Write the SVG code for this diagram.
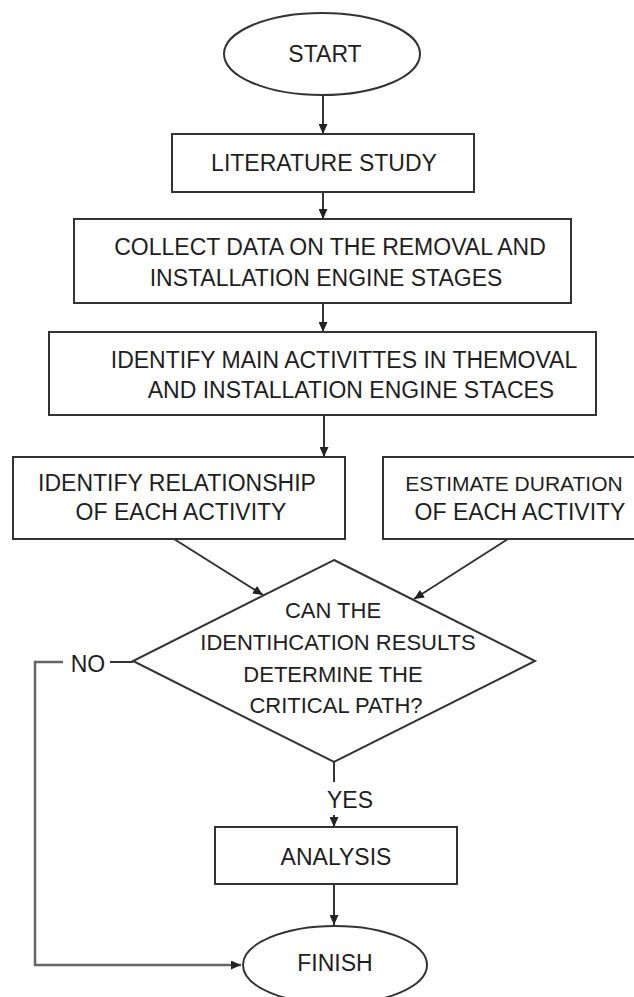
<svg xmlns="http://www.w3.org/2000/svg" width="634" height="997" viewBox="0 0 634 997">
<style>
.shape{fill:#fff;stroke:#333;stroke-width:2}
.t{font-family:"Liberation Sans",Arial,sans-serif;font-size:23px;fill:#1e1e1e;text-anchor:middle}
.d{font-size:22px}
.c{fill:none;stroke:#333;stroke-width:2}
.g{fill:none;stroke:#666;stroke-width:2.5}
</style>
<defs>
<marker id="ah" markerUnits="userSpaceOnUse" markerWidth="10" markerHeight="9" refX="10" refY="4.5" orient="auto">
<path d="M0,0 L10,4.5 L0,9 z" fill="#222"/>
</marker>
</defs>
<rect width="634" height="997" fill="#fff"/>
<g id="connectors">
<line class="c" x1="323" y1="95" x2="323" y2="134" marker-end="url(#ah)"/>
<line class="c" x1="323" y1="192" x2="323" y2="219" marker-end="url(#ah)"/>
<line class="c" x1="323" y1="303" x2="323" y2="332" marker-end="url(#ah)"/>
<line class="c" x1="324" y1="415" x2="324" y2="457" marker-end="url(#ah)"/>
<line class="c" x1="174" y1="539" x2="263" y2="595" marker-end="url(#ah)"/>
<line class="c" x1="508" y1="539" x2="414" y2="599" marker-end="url(#ah)"/>
<line class="c" x1="133" y1="662" x2="110" y2="662"/>
<polyline class="g" points="63,662 35,662 35,965 241,965" marker-end="url(#ah)"/>
<line class="c" x1="334" y1="762" x2="334" y2="782"/>
<line class="c" x1="334" y1="815" x2="334" y2="827" marker-end="url(#ah)"/>
<line class="c" x1="334" y1="884" x2="334" y2="925" marker-end="url(#ah)"/>
<text class="t" x="88" y="672">NO</text>
<text class="t" x="350" y="808">YES</text>
</g>
<g id="start">
<ellipse class="shape" cx="322" cy="54" rx="98" ry="41"/>
<text class="t" x="325" y="62">START</text>
</g>
<g id="literature">
<rect class="shape" x="172" y="134" width="302" height="58"/>
<text class="t" x="324" y="171">LITERATURE STUDY</text>
</g>
<g id="collect">
<rect class="shape" x="74" y="219" width="497" height="84"/>
<text class="t" x="330" y="255">COLLECT DATA ON THE REMOVAL AND</text>
<text class="t" x="326" y="286">INSTALLATION ENGINE STAGES</text>
</g>
<g id="identify-main">
<rect class="shape" x="49" y="332" width="547" height="83"/>
<text class="t" x="344" y="368">IDENTIFY MAIN ACTIVITTES IN THEMOVAL</text>
<text class="t" x="351" y="398">AND INSTALLATION ENGINE STACES</text>
</g>
<g id="relationship">
<rect class="shape" x="13" y="457" width="332" height="82"/>
<text class="t" x="177" y="491">IDENTIFY RELATIONSHIP</text>
<text class="t" x="181" y="520">OF EACH ACTIVITY</text>
</g>
<g id="duration">
<rect class="shape" x="383" y="457" width="282" height="82"/>
<text class="t" x="514" y="491" style="font-size:21px">ESTIMATE DURATION</text>
<text class="t" x="520" y="520">OF EACH ACTIVITY</text>
</g>
<g id="decision">
<polygon class="shape" points="334,560 535,661 334,762 133,661"/>
<text class="t d" x="333" y="618">CAN THE</text>
<text class="t d" x="338" y="650">IDENTIHCATION RESULTS</text>
<text class="t d" x="333" y="682">DETERMINE THE</text>
<text class="t d" x="336" y="713">CRITICAL PATH?</text>
</g>
<g id="analysis">
<rect class="shape" x="215" y="827" width="242" height="57"/>
<text class="t" x="336" y="865">ANALYSIS</text>
</g>
<g id="finish">
<ellipse class="shape" cx="335" cy="965" rx="92" ry="39"/>
<text class="t" x="335" y="971">FINISH</text>
</g>
</svg>
